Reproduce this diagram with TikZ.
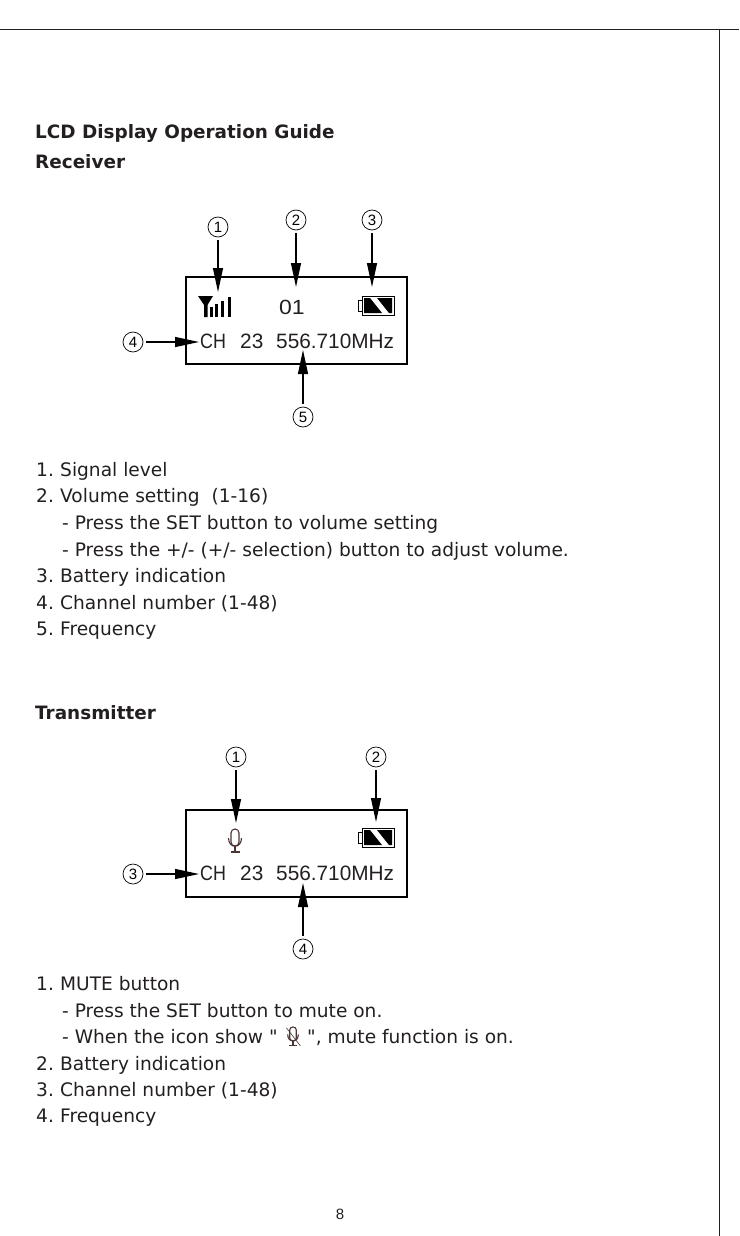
\documentclass[tikz,border=0pt]{standalone}
\usepackage{fontspec}
\newfontfamily\bodyfont{DejaVu Sans}
\newfontfamily\lcdfont{Liberation Sans}
\newfontfamily\chfont[FakeStretch=0.86]{Liberation Sans}
\newfontfamily\zerofont[FakeStretch=1.12]{Liberation Sans}
\usetikzlibrary{arrows.meta}
\definecolor{ink}{HTML}{231F20}
\definecolor{micink}{HTML}{4A3532}
\tikzset{
  x=1pt,y=-1pt,
  txt/.style={anchor=base west,inner sep=0pt,text=ink,font=\bodyfont\fontsize{18.6}{20}\selectfont},
  head/.style={anchor=base west,inner sep=0pt,text=ink,font=\bodyfont\fontsize{18.4}{20}\selectfont\bfseries},
  lcdtxt/.style={anchor=base west,inner sep=0pt,text=ink,font=\lcdfont\fontsize{20.8}{22}\selectfont},
  lcdch/.style={anchor=base west,inner sep=0pt,text=ink,font=\chfont\fontsize{20.8}{22}\selectfont},
  lcdzero/.style={anchor=base west,inner sep=0pt,text=ink,font=\zerofont\fontsize{20.5}{22}\selectfont},
  num/.style={circle,draw,line width=0.7pt,minimum size=20pt,inner sep=0pt,font=\lcdfont\fontsize{15}{15}\selectfont},
  lcdbox/.style={draw,line width=2pt},
  callout/.style={line width=1.2pt,-{Triangle[length=24pt,width=10pt]},shorten <=3pt},
  rule/.style={line width=1pt,draw=ink},
  micline/.style={draw=micink,line width=1.1pt},
}
\newcommand{\batt}[2]{% x,y top-left
  \begin{scope}[shift={(#1,#2)}]
    \draw[line width=0.7pt] (0,4) rectangle (4,15);
    \draw[line width=1pt,fill=white] (4,0) rectangle (36,19);
    \fill (6,2) -- (12,2) -- (24,17) -- (6,17) -- cycle;
    \fill (19,2) -- (34,2) -- (34,17) -- (31,17) -- cycle;
  \end{scope}}
\newcommand{\micicon}[2]{% centre x, top y
  \begin{scope}[shift={(#1,#2)}]
    \draw[micline,rounded corners=3.9pt] (-4,0) rectangle (4,17);
    \draw[micline] (-6.5,9) .. controls (-6.5,20) and (6.5,20) .. (6.5,9);
    \draw[micline] (0,17) -- (0,23);
    \draw[micline] (-4.5,23) -- (4.5,23);
  \end{scope}}
\newcommand{\li}[2]{\makebox[24pt][l]{#1}#2}
\begin{document}
\begin{tikzpicture}
\useasboundingbox (0,0) rectangle (739,1236);
\draw[rule] (0,30) -- (739,30);
\draw[rule] (719,30) -- (719,1236);

\node[head] (t1) at (35,138.5) {LCD Display Operation Guide};
\node[head] (t2) at (35,168.5) {Receiver};

% receiver
\draw[lcdbox] (186,277) rectangle (407,364);
\node[num] (a1) at (218,227) {1};
\node[num] (a2) at (296,220) {2};
\node[num] (a3) at (372,220) {3};
\node[num] (a4) at (133,342) {4};
\node[num] (a5) at (303,417) {5};
\coordinate (e1) at (218,292);
\coordinate (e2) at (296,287);
\coordinate (e3) at (372,287);
\coordinate (e4) at (199,342);
\coordinate (e5) at (303,350);
\draw[callout] (a1) ++(0,10) -- (e1);
\draw[callout] (a2) ++(0,10) -- (e2);
\draw[callout] (a3) ++(0,10) -- (e3);
\draw[callout] (a4) ++(10,0) -- (e4);
\draw[callout] (a5) ++(0,-10) -- (e5);
% signal icon
\fill (198,296) -- (213,296) -- (207.5,305) -- (207.5,317) -- (204,317) -- (204,305) -- cycle;
\fill (210,307) rectangle (212.7,317);
\fill (215.3,304) rectangle (218.3,317);
\fill (221,301) rectangle (224,317);
\fill (227.5,297) rectangle (230.7,317);
\node[lcdzero] (v1) at (279,314) {01};
\batt{358}{296}
\node[lcdch] (r1) at (200,348) {CH};
\node[lcdtxt] (r2) at (240,348) {23};
\node[lcdtxt] (r3) at (276,348) {556.710MHz};

\node[txt] (l1) at (36,476) {\li{1.}{Signal level}};
\node[txt] (l2) at (36,502) {\li{2.}{Volume setting\ \ (1-16)}};
\node[txt] (l3) at (62,529) {- Press the SET button to volume setting};
\node[txt] (l4) at (62,556) {- Press the +/- (+/- selection) button to adjust volume.};
\node[txt] (l5) at (36,582) {\li{3.}{Battery indication}};
\node[txt] (l6) at (36,609) {\li{4.}{Channel number (1-48)}};
\node[txt] (l7) at (36,635) {\li{5.}{Frequency}};

\node[head] (t3) at (35,719) {Transmitter};

% transmitter
\draw[lcdbox] (186,810) rectangle (407,897);
\node[num] (b1) at (236,757) {1};
\node[num] (b2) at (376,757) {2};
\node[num] (b3) at (133,874) {3};
\node[num] (b4) at (303,949) {4};
\coordinate (f1) at (236,823);
\coordinate (f2) at (376,822);
\coordinate (f3) at (199,874);
\coordinate (f4) at (303,883);
\draw[callout] (b1) ++(0,10) -- (f1);
\draw[callout] (b2) ++(0,10) -- (f2);
\draw[callout] (b3) ++(10,0) -- (f3);
\draw[callout] (b4) ++(0,-10) -- (f4);
\micicon{235}{829}
\batt{358}{828}
\node[lcdch] (s1) at (200,880) {CH};
\node[lcdtxt] (s2) at (240,880) {23};
\node[lcdtxt] (s3) at (276,880) {556.710MHz};

\node[txt] (m1) at (36,990) {\li{1.}{MUTE button}};
\node[txt] (m2) at (62,1017) {- Press the SET button to mute on.};
\node[txt] (m3) at (62,1043) {- When the icon show "};
\node[txt] (m3b) at (307,1043) {", mute function is on.};
\begin{scope}[shift={(293,1027)},scale=0.82]
  \draw[micline,rounded corners=3pt] (-4,0) rectangle (4,17);
  \draw[micline] (-6.5,9) .. controls (-6.5,20) and (6.5,20) .. (6.5,9);
  \draw[micline] (0,17) -- (0,23);
  \draw[micline] (-4.5,23) -- (4.5,23);
  \draw[micline,line width=0.6pt] (-8,1) -- (9,23);
\end{scope}
\node[txt] (m4) at (36,1070) {\li{2.}{Battery indication}};
\node[txt] (m5) at (36,1096) {\li{3.}{Channel number (1-48)}};
\node[txt] (m6) at (36,1122.5) {\li{4.}{Frequency}};

\node[anchor=base,inner sep=0pt,text=ink,font=\lcdfont\fontsize{15}{16}\selectfont] (pg) at (340,1219) {8};
\end{tikzpicture}
\end{document}
